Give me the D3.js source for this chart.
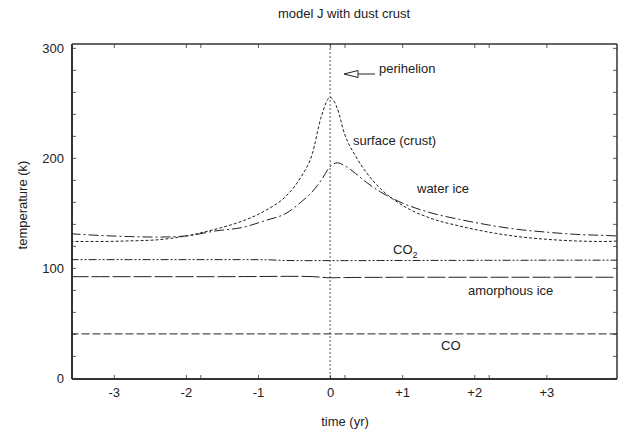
<!DOCTYPE html>
<html>
<head>
<meta charset="utf-8">
<script src="https://cdn.jsdelivr.net/npm/d3@7"></script>
<style>
  body { margin: 0; background: #fff; }
  text { font-family: "Liberation Sans", Arial, sans-serif; fill: #222; }
</style>
</head>
<body>
<div class="chart"></div>
<script>
// time relative to perihelion (yr)
const time = [-3.6, -3.2, -2.8, -2.4, -2.0, -1.6, -1.2, -0.9, -0.6, -0.4, -0.25, -0.12, 0, 0.1, 0.2, 0.35, 0.5, 0.7, 1.0, 1.4, 1.8, 2.2, 2.6, 3.0, 3.4, 3.8, 4.0];
const surface = [124, 124, 124.5, 125.5, 129, 135, 143, 152, 166, 183, 203, 238, 255, 245, 222, 202, 187, 172, 157, 145, 138, 132.5, 128.5, 126, 124.5, 124, 124.5];
const waterIce = [131, 129.5, 128.5, 128, 129, 133.5, 137, 143, 150, 160, 169, 180, 192, 195.5, 193, 186, 178, 169, 159, 150, 144, 139, 135, 132.5, 130.5, 129.5, 129];
const co2 = [107.5, 107.5, 107.5, 107.5, 107.5, 107.5, 107.5, 107.4, 106.7, 106.6, 106.6, 106.6, 106.6, 106.6, 106.6, 106.6, 106.6, 106.7, 106.7, 106.8, 106.8, 106.9, 106.9, 107, 107, 107, 107];
const amorphous = [92, 92, 92, 92, 92, 92, 92.1, 92.2, 92.3, 92.3, 92.1, 91.5, 91, 91.1, 91.2, 91.3, 91.4, 91.4, 91.5, 91.5, 91.5, 91.5, 91.5, 91.5, 91.5, 91.5, 91.5];
const co = [40, 40, 40, 40, 40, 40, 40, 40, 40, 40, 40, 40, 40, 40, 40, 40, 40, 40, 40, 40, 40, 40, 40, 40, 40, 40, 40];

const xTicks = [-3, -2, -1, 0, 1, 2, 3];
const xTickLabels = ['-3', '-2', '-1', '0', '+1', '+2', '+3'];
const xExtraTicks = [-1.8, 0.2, 2.2];
const yTicks = [0, 20, 40, 60, 80, 100, 120, 140, 160, 180, 200, 220, 240, 260, 280, 300];
const yTickLabels = [0, 100, 200, 300];
const perihelion = 0;

const width = 627;
const height = 430;
const pLeft = 72, pRight = 617, pTop = 44, pBottom = 379;

const svg = d3.select('.chart')
	.append('svg')
	.attr('width', width)
	.attr('height', height);

const x = d3.scaleLinear().domain([-3.58, 3.98]).range([pLeft, pRight]);
const y = d3.scaleLinear().domain([-1, 303.5]).range([pBottom, pTop]);

// axes, ticks pointing inwards
const fmt = d => yTickLabels.includes(d) ? d : '';
svg.append('g')
	.attr('transform', `translate(0,${pBottom})`)
	.call(d3.axisBottom(x).tickValues(xTicks.concat(xExtraTicks)).tickSize(-4).tickPadding(9)
		.tickFormat(d => { const i = xTicks.indexOf(d); return i < 0 ? '' : xTickLabels[i]; }));
svg.append('g')
	.attr('transform', `translate(0,${pTop})`)
	.call(d3.axisTop(x).tickValues(xTicks.concat(xExtraTicks)).tickSize(-4).tickFormat(''));
svg.append('g')
	.attr('transform', `translate(${pLeft},0)`)
	.call(d3.axisLeft(y).tickValues(yTicks).tickSize(-4).tickPadding(8).tickFormat(fmt));
svg.append('g')
	.attr('transform', `translate(${pRight},0)`)
	.call(d3.axisRight(y).tickValues(yTicks).tickSize(-4).tickFormat(''));

svg.selectAll('.domain').remove();
svg.selectAll('.tick line').attr('stroke', '#333').attr('stroke-width', 0.8);
svg.selectAll('.tick text').attr('font-size', '13px').attr('fill', '#222')
	.style('font-family', '"Liberation Sans", Arial, sans-serif');

// frame
svg.append('line').attr('x1', pLeft).attr('x2', pRight).attr('y1', pTop).attr('y2', pTop)
	.attr('stroke', '#333').attr('stroke-width', 1.5);
svg.append('line').attr('x1', pRight).attr('x2', pRight).attr('y1', pTop).attr('y2', pBottom)
	.attr('stroke', '#333').attr('stroke-width', 1.5);
svg.append('line').attr('x1', pLeft).attr('x2', pRight).attr('y1', pBottom).attr('y2', pBottom)
	.attr('stroke', '#333').attr('stroke-width', 2);
svg.append('line').attr('x1', pLeft).attr('x2', pLeft).attr('y1', pTop).attr('y2', pBottom)
	.attr('stroke', '#333').attr('stroke-width', 2);

// perihelion marker
svg.append('line')
	.attr('x1', x(perihelion)).attr('x2', x(perihelion))
	.attr('y1', pTop).attr('y2', pBottom)
	.attr('stroke', '#333').attr('stroke-width', 0.8)
	.attr('stroke-dasharray', '2,2');

const series = [
	{ name: 'surface', values: surface, dash: '3,2' },
	{ name: 'water', values: waterIce, dash: '10,3,2,3' },
	{ name: 'co2', values: co2, dash: '8,2,2,2,2,2' },
	{ name: 'amorphous', values: amorphous, dash: '18,3' },
	{ name: 'co', values: co, dash: '8,3' }
];

const line = d3.line()
	.x((d, i) => x(time[i]))
	.y(d => y(d))
	.curve(d3.curveMonotoneX);

svg.append('defs').append('clipPath').attr('id', 'clip')
	.append('rect').attr('x', pLeft).attr('y', pTop).attr('width', pRight - pLeft).attr('height', pBottom - pTop);

svg.selectAll('path.series')
	.data(series)
	.enter()
	.append('path')
	.attr('class', 'series')
	.attr('clip-path', 'url(#clip)')
	.attr('d', d => line(d.values))
	.attr('fill', 'none')
	.attr('stroke', '#222')
	.attr('stroke-width', 1)
	.attr('stroke-dasharray', d => d.dash);

// arrow to perihelion
svg.append('line')
	.attr('x1', 375).attr('x2', 358).attr('y1', 74).attr('y2', 74)
	.attr('stroke', '#222').attr('stroke-width', 1);
svg.append('path')
	.attr('d', 'M344,74 L358,70.5 L358,77.5 Z')
	.attr('fill', 'none').attr('stroke', '#222').attr('stroke-width', 1);

const fs = '13px';
svg.append('text').attr('x', 344).attr('y', 18).attr('text-anchor', 'middle')
	.attr('font-size', fs).text('model J with dust crust');
svg.append('text').attr('x', 345).attr('y', 426).attr('text-anchor', 'middle')
	.attr('font-size', fs).text('time (yr)');
svg.append('text').attr('transform', 'translate(27,205) rotate(-90)').attr('text-anchor', 'middle')
	.attr('font-size', fs).text('temperature (k)');

svg.append('text').attr('x', 379).attr('y', 73).attr('font-size', fs).text('perihelion');
svg.append('text').attr('x', 353).attr('y', 145).attr('font-size', fs).text('surface (crust)');
svg.append('text').attr('x', 417).attr('y', 193).attr('font-size', fs).text('water ice');
const co2Label = svg.append('text').attr('x', 393).attr('y', 254).attr('font-size', fs);
co2Label.append('tspan').text('CO');
co2Label.append('tspan').attr('font-size', '9px').attr('dy', 4).text('2');
svg.append('text').attr('x', 468).attr('y', 295).attr('font-size', fs).text('amorphous ice');
svg.append('text').attr('x', 441).attr('y', 350).attr('font-size', fs).text('CO');
</script>
</body>
</html>
